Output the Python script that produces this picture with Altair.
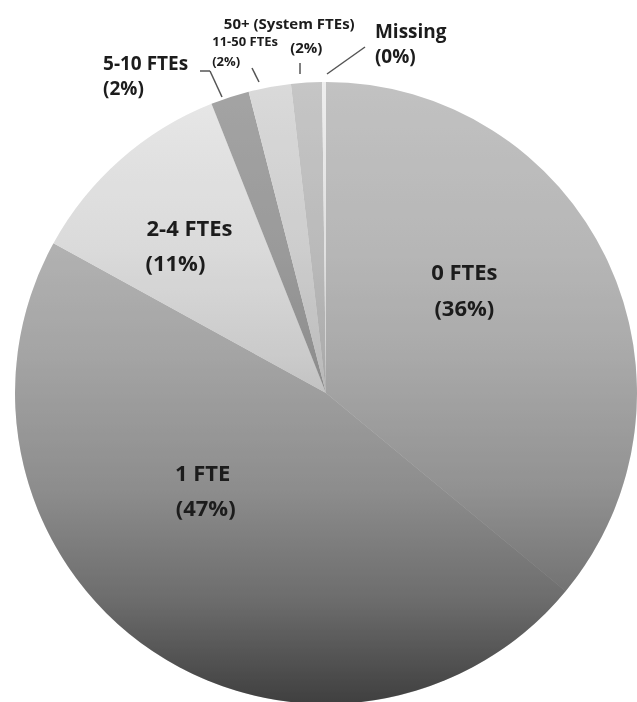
import altair as alt
import pandas as pd

# ---- data ----
categories = ["0 FTEs", "1 FTE", "2-4 FTEs", "5-10 FTEs", "11-50 FTEs",
              "50+ (System FTEs)", "Missing"]
values = [36.0, 47.0, 11.0, 2.0, 2.2, 1.6, 0.2]   # percent of respondents
order = [1, 2, 3, 4, 5, 6, 7]

df = pd.DataFrame({"cat": categories, "value": values, "order": order})

# ---- styling ----
slice_colors = ["#c2c2c2", "#bcbcbc", "#e8e8e8", "#a4a4a4", "#dadada", "#c6c6c6", "#eeeeee"]
CX, CY, R = 326, 393, 311
FONT = "Open Sans"
TEXT_COLOR = "#1c1c1c"

shade = alt.LinearGradient(
    gradient="linear", x1=0, y1=0, x2=0, y2=1,
    stops=[
        alt.GradientStop(color="#ffffff", offset=0),
        alt.GradientStop(color="#f0f0f0", offset=0.27),
        alt.GradientStop(color="#e0e0e0", offset=0.43),
        alt.GradientStop(color="#bfbfbf", offset=0.656),
        alt.GradientStop(color="#949494", offset=0.83),
        alt.GradientStop(color="#555555", offset=1),
    ],
)

slices = alt.Chart(df).mark_arc(radius=R).encode(
    theta=alt.Theta("value:Q", stack=True),
    order=alt.Order("order:Q"),
    color=alt.Color("cat:N", scale=alt.Scale(domain=categories, range=slice_colors), legend=None),
    x=alt.value(CX), y=alt.value(CY),
)

overlay = alt.Chart(df).transform_aggregate(total="sum(value)").mark_arc(
    radius=R, fill=shade, blend="multiply"
).encode(
    theta=alt.Theta("total:Q", stack=True),
    x=alt.value(CX), y=alt.value(CY),
)


def label(cat, field, r, dx, dy, align, size, weight="bold"):
    return alt.Chart(df).transform_stack(
        stack="value", groupby=[], as_=["s", "e"], sort=[alt.SortField("order")]
    ).transform_calculate(
        mid="(datum.s + datum.e) / 2",
        pct="'(' + format(datum.value, '.0f') + '%)'",
    ).transform_filter(alt.datum.cat == cat).mark_text(
        font=FONT, fontSize=size, fontWeight=weight, color=TEXT_COLOR,
        align=align, baseline="middle", dx=dx, dy=dy,
    ).encode(
        theta=alt.Theta("mid:Q", stack=None),
        radius=alt.value(r),
        text=alt.Text(field + ":N"),
        x=alt.value(CX), y=alt.value(CY),
    )


labels = [
    label("0 FTEs", "cat", 175, -20, -45, "center", 22),
    label("0 FTEs", "pct", 175, -20, -9, "center", 22),
    label("1 FTE", "cat", 150, -39, -43, "center", 22),
    label("1 FTE", "pct", 150, -36, -8, "center", 22),
    label("2-4 FTEs", "cat", 220, -34, 1, "left", 22),
    label("2-4 FTEs", "pct", 220, -35, 36, "left", 22),
    label("5-10 FTEs", "cat", 330, -121, -15, "left", 19),
    label("5-10 FTEs", "pct", 330, -121, 10, "left", 19),
    label("11-50 FTEs", "cat", 330, -54, -26, "left", 13),
    label("11-50 FTEs", "pct", 330, -54, -6, "left", 13),
    label("50+ (System FTEs)", "cat", 330, -16, -40, "center", 15),
    label("50+ (System FTEs)", "pct", 330, 1, -16, "center", 15),
    label("Missing", "cat", 330, 51, -31, "left", 19),
    label("Missing", "pct", 330, 51, -6, "left", 19),
]

# leader lines (annotation segments)
one = pd.DataFrame({"k": [0]})
segments = [
    (200, 71, 210, 71), (210, 71, 222, 97),
    (252, 68, 259, 82),
    (300, 63, 300, 74),
    (365, 47, 327, 74),
]
leaders = [
    alt.Chart(one).mark_rule(color="#555555", strokeWidth=1.5).encode(
        x=alt.value(a), y=alt.value(b), x2=alt.value(c), y2=alt.value(d)
    )
    for a, b, c, d in segments
]

chart = alt.layer(slices, overlay, *leaders, *labels).properties(
    width=637, height=702, padding=0,
    autosize=alt.AutoSizeParams(type="none"),
    background="white",
).configure_view(stroke=None)

chart.save("out.html", embed_options={"renderer": "svg", "actions": False})
